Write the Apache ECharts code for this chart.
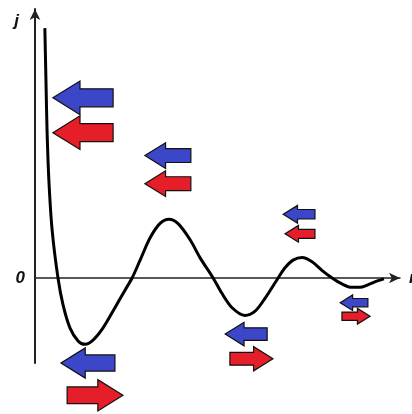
<!DOCTYPE html>
<html>
<head>
<meta charset="utf-8">
<script src="https://cdn.jsdelivr.net/npm/echarts@6/dist/echarts.min.js"></script>
<style>html,body{margin:0;padding:0;background:#fff}#c{width:412px;height:414px}</style>
</head>
<body>
<div id="c"></div>
<script>
// Exchange coupling j versus distance r
const curveX = [0.27,0.30,0.33,0.38,0.47,0.63,0.77,0.96,1.18,1.37,1.59,1.86,2.19,2.47,2.66,2.88,3.15,3.42,3.67,3.92,4.25,4.52,4.88,5.12,5.40,5.75,6.03,6.30,6.66,6.85,7.07,7.32,7.59,7.86,8.14,8.41,8.68,8.90,9.12,9.34,9.56];
const curveJ = [2.94,2.33,1.74,1.15,0.56,0,-0.32,-0.59,-0.74,-0.78,-0.73,-0.59,-0.35,-0.14,0,0.21,0.47,0.64,0.69,0.64,0.45,0.24,0,-0.18,-0.35,-0.44,-0.39,-0.24,0,0.12,0.21,0.24,0.19,0.09,0,-0.07,-0.11,-0.11,-0.08,-0.04,-0.01];

// Spin arrows: [xStart, xEnd, yCenter, direction(-1 left, +1 right)]
const blueArrows = [
  [0.49,2.14,2.12,-1],
  [3.01,4.27,1.44,-1],
  [6.80,7.67,0.75,-1],
  [0.71,2.19,-1.00,-1],
  [5.21,6.36,-0.66,-1],
  [8.36,9.12,-0.29,-1]
];
const redArrows = [
  [0.49,2.14,1.71,-1],
  [3.01,4.27,1.11,-1],
  [6.85,7.67,0.52,-1],
  [0.88,2.41,-1.38,1],
  [5.34,6.52,-0.95,1],
  [8.41,9.18,-0.45,1]
];

const yTickValues = [0];

function arrowItem(color) {
  return function (params, api) {
    const x0 = api.value(0), x1 = api.value(1), y = api.value(2), dir = api.value(3);
    const p0 = api.coord([x0, y]), p1 = api.coord([x1, y]);
    const len = p1[0] - p0[0];
    const cy = p0[1];
    const hh = len * 0.28, bh = len * 0.15, hl = len * 0.45;
    let pts;
    if (dir < 0) {
      const tip = p0[0], back = p0[0] + hl, tail = p1[0];
      pts = [[tip, cy], [back, cy - hh], [back, cy - bh], [tail, cy - bh], [tail, cy + bh], [back, cy + bh], [back, cy + hh]];
    } else {
      const tip = p1[0], back = p1[0] - hl, tail = p0[0];
      pts = [[tip, cy], [back, cy - hh], [back, cy - bh], [tail, cy - bh], [tail, cy + bh], [back, cy + bh], [back, cy + hh]];
    }
    return { type: 'polygon', shape: { points: pts }, style: { fill: color, stroke: '#111', lineWidth: 1.2 } };
  };
}

const chart = echarts.init(document.getElementById('c'), null, { renderer: 'canvas' });
chart.setOption({
  animation: false,
  backgroundColor: '#fff',
  grid: { left: 35, right: 12, top: 9, bottom: 51, outerBoundsMode: 'none', containLabel: false },
  xAxis: {
    type: 'value', min: 0, max: 10,
    name: 'r', nameLocation: 'end', nameGap: 9,
    nameTextStyle: { fontSize: 17, fontStyle: 'italic', fontWeight: 'bold', fontFamily: 'Liberation Sans', color: '#111' },
    axisLine: { onZero: true, lineStyle: { color: '#222', width: 1.5 }, symbol: ['none', 'arrow'], symbolSize: [8, 11] },
    axisTick: { show: false }, axisLabel: { show: false }, splitLine: { show: false }
  },
  yAxis: {
    type: 'value', min: -1, max: 3.165,
    name: 'j', nameLocation: 'end', nameGap: -4,
    nameTextStyle: { fontSize: 17, fontStyle: 'italic', fontWeight: 'bold', fontFamily: 'Liberation Sans', color: '#111', align: 'right', verticalAlign: 'top', padding: [0, 16, 0, 0] },
    axisLine: { show: true, onZero: false, lineStyle: { color: '#222', width: 2 }, symbol: ['none', 'arrow'], symbolSize: [8, 11] },
    axisTick: { show: false },
    axisLabel: { show: true, customValues: yTickValues, margin: 10, fontSize: 17, fontStyle: 'italic', fontWeight: 'bold', fontFamily: 'Liberation Sans', color: '#111' },
    splitLine: { show: false }
  },
  series: [
    {
      type: 'line', data: curveX.map((x, i) => [x, curveJ[i]]),
      smooth: 0.3, symbol: 'none', z: 3,
      lineStyle: { color: '#000', width: 3 }
    },
    { type: 'custom', data: blueArrows, renderItem: arrowItem('#3C46C8'), clip: false, z: 4 },
    { type: 'custom', data: redArrows, renderItem: arrowItem('#E61E2A'), clip: false, z: 4 }
  ]
});
</script>
</body>
</html>
